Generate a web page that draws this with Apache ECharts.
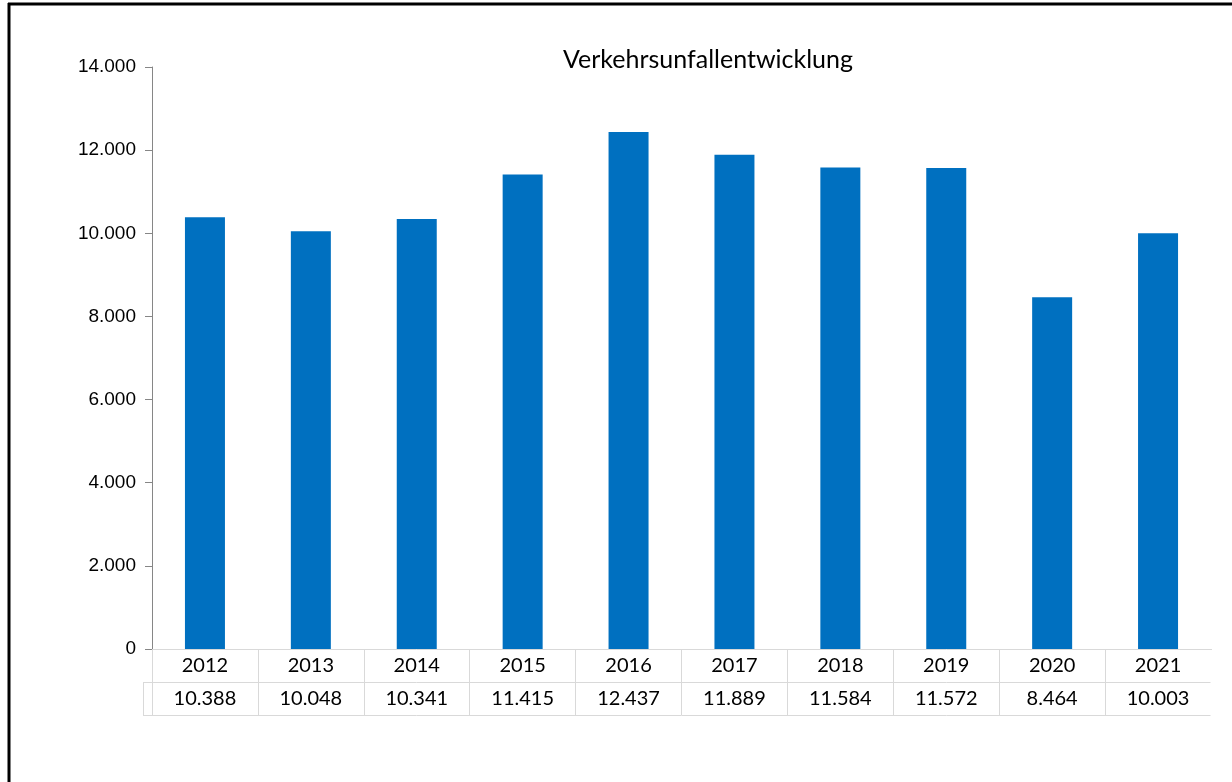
<!DOCTYPE html>
<html>
<head>
<meta charset="utf-8">
<title>Verkehrsunfallentwicklung</title>
<script src="https://cdn.jsdelivr.net/npm/echarts@6/dist/echarts.min.js"></script>
<style>
    html, body { margin: 0; padding: 0; background: #fff; }
    #main { width: 1232px; height: 782px; }
</style>
</head>
<body>
<div id="main"></div>
<script>
// Daten
var jahre = ['2012', '2013', '2014', '2015', '2016', '2017', '2018', '2019', '2020', '2021'];
var unfaelle = [10388, 10048, 10341, 11415, 12437, 11889, 11584, 11572, 8464, 10003];
var yTicks = [0, 2000, 4000, 6000, 8000, 10000, 12000, 14000];

var tabelleGrau = '#d9d9d9';
var blau = '#0070c0';

// 10388 -> "10.388"
function deZahl(v) {
    return String(v).replace(/\B(?=(\d{3})+(?!\d))/g, '.');
}

var myChart = echarts.init(document.getElementById('main'));

myChart.setOption({
    backgroundColor: '#fff',
    animation: false,
    title: {
        text: 'Verkehrsunfallentwicklung',
        left: 558,
        top: 42,
        textStyle: {
            fontFamily: 'Lato',
            fontSize: 25,
            fontWeight: 'normal',
            color: '#000'
        }
    },
    grid: {
        left: 152,
        right: 21,
        top: 67,
        bottom: 133
    },
    xAxis: [
        {
            type: 'category',
            data: jahre,
            position: 'bottom',
            axisLine: { show: true, lineStyle: { color: tabelleGrau, width: 1 } },
            axisTick: { show: true, interval: 0, length: 66, lineStyle: { color: tabelleGrau } },
            axisLabel: {
                interval: 0,
                margin: 7,
                fontFamily: 'Lato',
                fontSize: 20,
                color: '#000'
            }
        },
        {
            // zweite Tabellenzeile: Werte
            type: 'category',
            data: jahre,
            position: 'bottom',
            offset: 33,
            axisLine: { show: true, lineStyle: { color: tabelleGrau, width: 1 } },
            axisTick: { show: false },
            axisLabel: {
                interval: 0,
                margin: 7,
                fontFamily: 'Lato',
                fontSize: 20,
                color: '#000',
                formatter: function (val, idx) {
                    return deZahl(unfaelle[idx]);
                }
            }
        },
        {
            type: 'category',
            data: jahre,
            position: 'bottom',
            offset: 66,
            axisLine: { show: true, lineStyle: { color: tabelleGrau, width: 1 } },
            axisTick: { show: false },
            axisLabel: { show: false }
        }
    ],
    yAxis: {
        type: 'value',
        min: yTicks[0],
        max: yTicks[yTicks.length - 1],
        interval: 2000,
        splitLine: { show: false },
        axisLine: { show: true, lineStyle: { color: '#868686', width: 1 } },
        axisTick: { show: true, length: 7, lineStyle: { color: '#868686' } },
        axisLabel: {
            margin: 16,
            fontFamily: 'Liberation Sans',
            fontSize: 19,
            color: '#000',
            formatter: function (v) { return deZahl(v); }
        }
    },
    series: [
        {
            name: 'Verkehrsunfälle',
            type: 'bar',
            xAxisIndex: 0,
            data: unfaelle,
            barWidth: 40,
            itemStyle: { color: blau }
        }
    ],
    graphic: [
        // Rahmen oben und links
        { type: 'line', shape: { x1: 8, y1: 4, x2: 1232, y2: 4 }, style: { stroke: '#000', lineWidth: 3 }, z: 100 },
        { type: 'line', shape: { x1: 9, y1: 3, x2: 9, y2: 782 }, style: { stroke: '#000', lineWidth: 3 }, z: 100 },
        // Legendenspalte der Datentabelle
        { type: 'line', shape: { x1: 143, y1: 682.5, x2: 152, y2: 682.5 }, style: { stroke: tabelleGrau, lineWidth: 1 } },
        { type: 'line', shape: { x1: 143, y1: 715.5, x2: 152, y2: 715.5 }, style: { stroke: tabelleGrau, lineWidth: 1 } },
        { type: 'line', shape: { x1: 143.5, y1: 682, x2: 143.5, y2: 716 }, style: { stroke: tabelleGrau, lineWidth: 1 } },
        // rechter Tabellenrand ist im Original offen
        { type: 'rect', shape: { x: 1210.5, y: 650, width: 4, height: 68 }, style: { fill: '#fff' }, z: 100 }
    ]
});
</script>
</body>
</html>
